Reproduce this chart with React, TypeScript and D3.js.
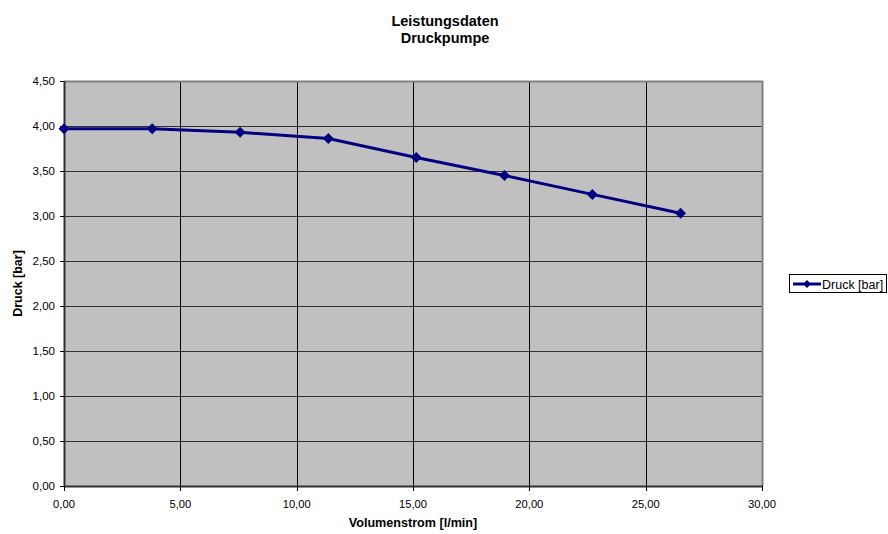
import React from "react";
import * as d3 from "d3";

const flowValues = [0, 3.79, 7.57, 11.36, 15.14, 18.93, 22.71, 26.5];
const pressureValues = [3.97, 3.97, 3.93, 3.86, 3.65, 3.45, 3.24, 3.03];
const xTicks = [0, 5, 10, 15, 20, 25, 30];
const yTicks = [0, 0.5, 1, 1.5, 2, 2.5, 3, 3.5, 4, 4.5];
const titleLines = ["Leistungsdaten", "Druckpumpe"];
const xTitle = "Volumenstrom [l/min]";
const yTitle = "Druck [bar]";
const seriesName = "Druck [bar]";

const W = 888;
const H = 534;
const left = 64;
const right = 762;
const top = 81;
const bottom = 486;
const font = "'Liberation Sans', Arial, sans-serif";

const fmt = (v: number) => v.toFixed(2).replace(".", ",");

export default function App() {
  const x = d3.scaleLinear().domain([0, 30]).range([left, right]);
  const y = d3.scaleLinear().domain([0, 4.5]).range([bottom, top]);
  const pts = flowValues.map((f, i) => [f, pressureValues[i]] as [number, number]);
  const line = d3
    .line<[number, number]>()
    .x((d) => x(d[0]))
    .y((d) => y(d[1]));
  const diamond = (cx: number, cy: number, r: number) =>
    `M${cx},${cy - r}L${cx + r},${cy}L${cx},${cy + r}L${cx - r},${cy}Z`;

  return (
    <svg
      width={W}
      height={H}
      style={{ position: "absolute", left: 0, top: 0, background: "#fff" }}
      fontFamily={font}
    >
      {/* title */}
      {titleLines.map((t, i) => (
        <text
          key={t}
          x={445}
          y={25.5 + i * 17}
          textAnchor="middle"
          fontSize={14.5}
          fontWeight="bold"
          fill="#000"
        >
          {t}
        </text>
      ))}
      {/* plot area */}
      <rect x={left} y={top} width={right - left} height={bottom - top} fill="#C0C0C0" />
      {/* horizontal grid */}
      {yTicks.map((t) => (
        <line
          key={"h" + t}
          x1={left}
          x2={right}
          y1={Math.round(y(t)) + 0.5}
          y2={Math.round(y(t)) + 0.5}
          stroke="#303030"
          strokeWidth={1}
        />
      ))}
      {/* vertical grid */}
      {xTicks.slice(1, -1).map((t) => (
        <line
          key={"v" + t}
          x1={Math.round(x(t)) + 0.5}
          x2={Math.round(x(t)) + 0.5}
          y1={top}
          y2={bottom}
          stroke="#000"
          strokeWidth={1}
        />
      ))}
      {/* border top/right */}
      <line x1={left} x2={right + 1} y1={top + 0.5} y2={top + 0.5} stroke="#808080" strokeWidth={2} />
      <line x1={right + 0.5} x2={right + 0.5} y1={top} y2={bottom} stroke="#808080" strokeWidth={2} />
      {/* axes */}
      <line x1={left + 0.5} x2={left + 0.5} y1={top} y2={bottom + 1} stroke="#303030" strokeWidth={2} />
      <line x1={left} x2={right + 1} y1={bottom + 0.5} y2={bottom + 0.5} stroke="#303030" strokeWidth={2} />
      {/* y ticks */}
      {yTicks.map((t) => (
        <g key={"yt" + t}>
          <line
            x1={left - 4}
            x2={left}
            y1={Math.round(y(t)) + 0.5}
            y2={Math.round(y(t)) + 0.5}
            stroke="#000"
          />
          <text x={55} y={y(t) + 4} textAnchor="end" fontSize={11.5} fill="#000">
            {fmt(t)}
          </text>
        </g>
      ))}
      {/* x ticks */}
      {xTicks.map((t) => (
        <g key={"xt" + t}>
          <line
            x1={Math.round(x(t)) + 0.5}
            x2={Math.round(x(t)) + 0.5}
            y1={bottom}
            y2={bottom + 5}
            stroke="#000"
          />
          <text x={x(t)} y={508} textAnchor="middle" fontSize={11.2} fill="#000">
            {fmt(t)}
          </text>
        </g>
      ))}
      {/* axis titles */}
      <text x={(left + right) / 2} y={527} textAnchor="middle" fontSize={12.6} fontWeight="bold">
        {xTitle}
      </text>
      <text
        transform={`translate(22,${(top + bottom) / 2}) rotate(-90)`}
        textAnchor="middle"
        fontSize={12.5}
        fontWeight="bold"
      >
        {yTitle}
      </text>
      {/* series */}
      <path d={line(pts) || ""} fill="none" stroke="#000080" strokeWidth={3} />
      {pts.map((p, i) => (
        <path key={"m" + i} d={diamond(x(p[0]), y(p[1]), 5.5)} fill="#000080" />
      ))}
      {/* legend */}
      <rect x={789.5} y={274.5} width={97} height={18} fill="#fff" stroke="#000" strokeWidth={1} />
      <line x1={793} x2={821} y1={284} y2={284} stroke="#000080" strokeWidth={3} />
      <path d={diamond(807, 284, 4)} fill="#000080" />
      <text x={822} y={288.5} fontSize={12.5} fill="#000">
        {seriesName}
      </text>
    </svg>
  );
}
